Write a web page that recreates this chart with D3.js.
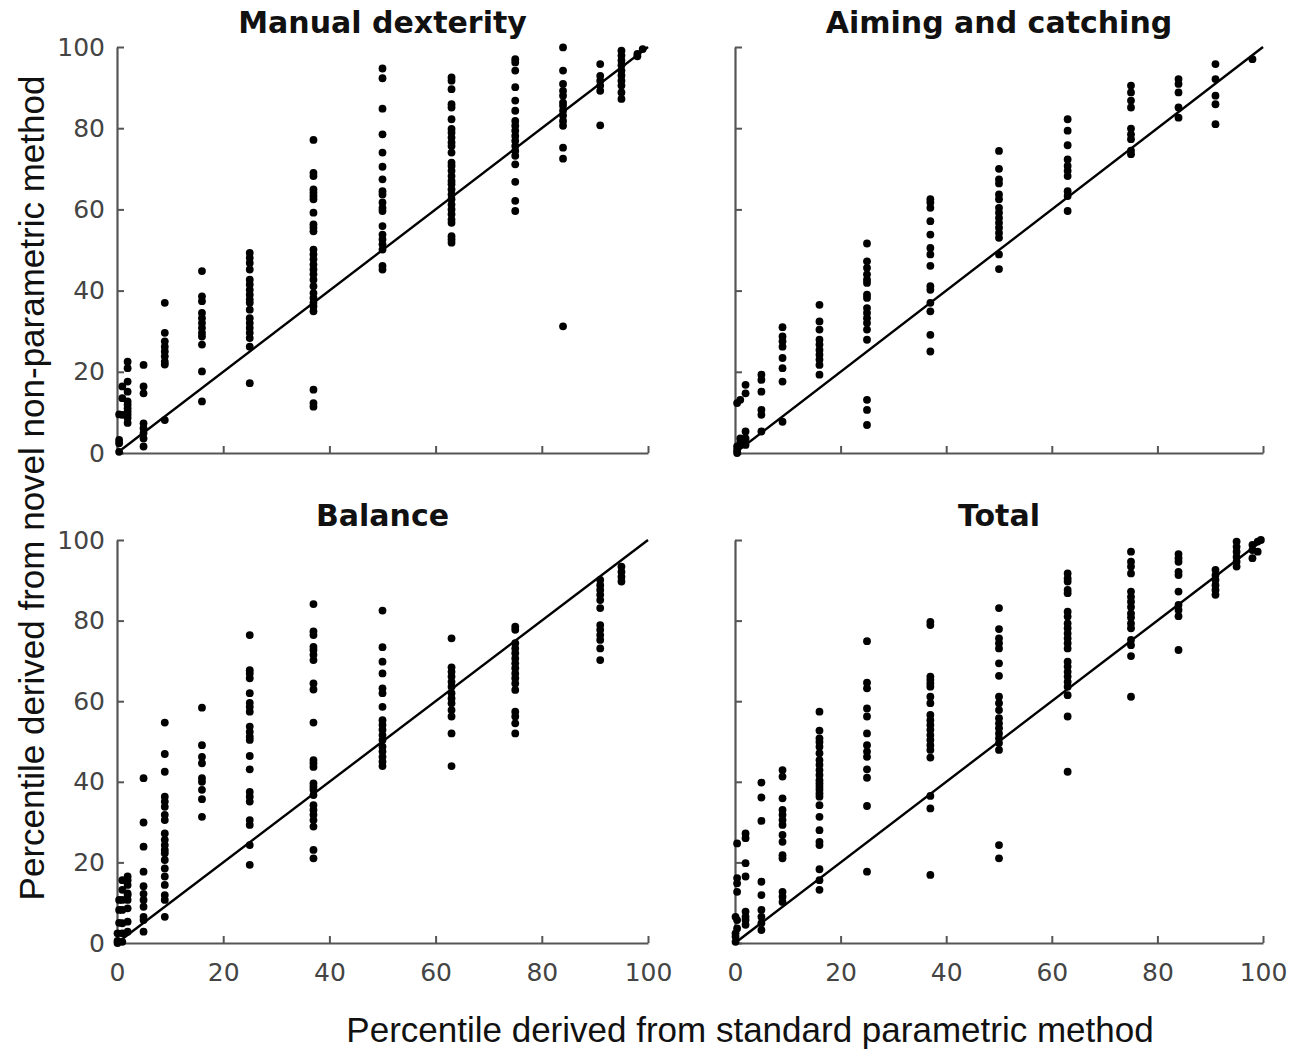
<html>
<head>
<script src="https://cdn.jsdelivr.net/npm/d3@7"></script>
<style>
body { margin: 0; background: #fff; }
.tick text { font-family: 'DejaVu Sans', sans-serif; }
</style>
</head>
<body>
<div id="chart"></div>
<script>
// each panel: [standard-method percentile, [novel-method percentiles]]
var manualDexterity = [
  [0.4, [0.3, 2.4, 3.2, 9.5]],
  [1, [16.4, 13.5, 9.4]],
  [2, [22.5, 20.9, 17.6, 15.1, 12.7, 11.9, 11.0, 10.2, 9.4, 8.6, 7.4]],
  [5, [21.7, 16.4, 14.7, 7.3, 6.1, 4.9, 3.6, 1.6]],
  [9, [37, 29.6, 27.5, 26.2, 25, 23.8, 22.5, 21.8, 8.1]],
  [16, [44.8, 38.6, 37.4, 34.5, 33.2, 32, 30.8, 29.6, 28.7, 26.7, 20.1, 12.7]],
  [25, [49.3, 48.1, 46.8, 45.2, 42.7, 41.5, 40.2, 39, 37.8, 37, 35.3, 33.2, 32, 30.8, 29.6, 28.3, 26.2, 17.2]],
  [37, [77.1, 69, 68.2, 64.9, 64.1, 63.3, 62.5, 59.2, 56.3, 55.5, 54.6, 50.1, 48.9, 47.7, 46.4, 45.2, 44, 42.7, 41.1, 39.4, 38.2, 37, 36.1, 34.9, 15.6, 12.3, 11.4]],
  [50, [94.7, 92.3, 84.8, 78.5, 74, 70.5, 67.4, 64.5, 63.7, 61.7, 60.4, 59.6, 55.9, 53.8, 52.6, 51.4, 50.1, 46.1, 45.2]],
  [63, [92.5, 91.7, 89.6, 85.9, 85.1, 82.2, 79.8, 78.9, 77.7, 76.5, 75.6, 74, 71.5, 70.7, 69.5, 68.2, 67, 66.2, 64.9, 63.7, 62.5, 61.2, 60, 58.8, 57.5, 56.7, 53.4, 52.6, 51.8]],
  [75, [97, 96.2, 94.2, 90.1, 86.8, 84.3, 81.8, 80.6, 79.4, 78.1, 76.9, 75.6, 74.4, 73.2, 71.1, 66.8, 62.1, 59.6]],
  [84, [99.9, 94.2, 90.9, 89.2, 88, 86.3, 85.5, 84.3, 83.1, 81.8, 80.6, 75.2, 72.5, 31.2]],
  [91, [95.8, 92.9, 91.7, 90.5, 89.2, 80.7]],
  [95, [99.1, 97.9, 96.7, 95.5, 94.2, 93, 91.7, 90.5, 88.8, 87.2]],
  [98, [98.3, 97.7]],
  [99, [99.5]]
];

var aimingCatching = [
  [0.4, [0, 0.7, 1.6, 12.3]],
  [1, [13.1, 3.6, 2.4]],
  [2, [16.8, 14.7, 5.3, 3.6, 2]],
  [5, [19.3, 18, 15.1, 10.6, 9.4, 5.3]],
  [9, [31, 28.7, 27.5, 26.2, 23.4, 20.9, 17.6, 7.7]],
  [16, [36.5, 32.4, 30.4, 27.9, 26.7, 25.4, 24.2, 23, 21.7, 19.3]],
  [25, [51.6, 47.2, 45.6, 44, 42.7, 41.9, 39, 38.2, 35.7, 34.5, 33.2, 32, 30.4, 27.9, 13.1, 10.6, 6.9]],
  [37, [62.5, 61.7, 60.4, 57.1, 53.8, 50.5, 48.9, 46.1, 41.1, 40.2, 37, 34.9, 29.1, 25]],
  [50, [74.4, 70, 67.4, 66.4, 63.7, 62.5, 60.4, 59.2, 57.9, 56.7, 55.5, 54.2, 53, 48.9, 45.3]],
  [63, [82.2, 79.4, 75.8, 72.3, 70.7, 69.5, 68.2, 64.5, 63.3, 59.6]],
  [75, [90.5, 88.8, 86.8, 85.1, 79.9, 78.5, 77.3, 74.5, 73.6]],
  [84, [92.1, 90.9, 88.8, 85.1, 82.6]],
  [91, [95.8, 92.1, 88, 85.9, 81]],
  [98, [97]]
];

var balance = [
  [0.1, [0, 0.5, 2.4]],
  [0.4, [5, 8.2, 10.7]],
  [1, [15.6, 13.2, 10.7, 8.2, 4.9, 2.4, 0.3]],
  [2, [16.5, 15.6, 14.4, 12.3, 11.9, 10.7, 8.6, 5.3, 2.8]],
  [5, [40.9, 29.9, 23.9, 17.7, 14.1, 12.2, 10.7, 9, 6.5, 5.7, 2.8]],
  [9, [54.7, 46.9, 42.5, 36.3, 35.1, 33.8, 31.8, 30.5, 27.2, 25.6, 24.3, 23.1, 22.3, 20.6, 18.5, 16.5, 14.4, 11.9, 10.7, 6.5]],
  [16, [58.4, 49.1, 46.2, 44.6, 40.9, 40, 38, 35.7, 31.3]],
  [25, [76.4, 67.7, 66.9, 65.7, 62, 59.6, 58.6, 57.4, 53.7, 52.4, 51.2, 50.4, 46.4, 43.1, 37.5, 36.3, 35.1, 30.5, 29.3, 24.3, 19.4]],
  [37, [84.1, 77.3, 76.4, 73.5, 72.7, 71.5, 70.2, 64.4, 62.9, 54.7, 45.4, 44.6, 43.7, 39.6, 38.8, 38, 36.7, 34.2, 33, 31.8, 30.5, 28.9, 23.1, 21]],
  [50, [82.5, 73.4, 69.8, 66.9, 63.2, 62, 58.6, 55.3, 54.1, 52.9, 51.6, 50.4, 48.7, 47.5, 46.2, 45, 43.9]],
  [63, [75.6, 68.4, 67.3, 66.1, 64.8, 63.6, 62, 60.7, 59.5, 57.8, 56.2, 52, 43.9]],
  [75, [78.5, 77.7, 74.4, 73.1, 71.9, 70.6, 69.4, 68.2, 66.9, 65.7, 64.4, 62.8, 57.4, 56.2, 54.5, 52]],
  [91, [90.1, 88.8, 87.6, 86.4, 85.1, 83.1, 78.9, 77.7, 76.4, 75.2, 73.1, 70.2]],
  [95, [93.4, 92.1, 90.9, 89.7]]
];

var total = [
  [0.1, [0.3, 1.6, 2.4, 6.5]],
  [0.4, [24.7, 16.1, 14.8, 12.7, 5.7, 3.6]],
  [2, [27.2, 26, 19.8, 16.5, 7.8, 6.5, 5.7, 4.5]],
  [5, [39.8, 36.1, 30.3, 15.2, 11.9, 8.2, 6.5, 4.9, 3.2]],
  [9, [42.9, 41.3, 35.9, 33, 31.8, 30.5, 29.3, 26.8, 25.1, 21.8, 21, 12.7, 11.5, 10.2]],
  [16, [57.4, 52.7, 50.8, 49.9, 48.7, 47.1, 45.4, 44.2, 42.9, 41.7, 40.4, 39.6, 38.8, 38, 37.1, 36.3, 34.2, 31.3, 28, 25.1, 24.3, 18.3, 15.6, 13.2]],
  [25, [74.9, 64.6, 63.2, 58.2, 56.2, 52, 49.1, 47.5, 46.2, 43.1, 41, 34, 17.7]],
  [37, [79.7, 78.9, 66.1, 65.3, 64.4, 63.6, 61.1, 59.5, 56.6, 55.3, 54.1, 52.9, 51.6, 50.4, 49.1, 47.9, 46, 36.5, 33.4, 16.9]],
  [50, [83.1, 77.9, 75.6, 74.4, 73.1, 69.4, 66.3, 61.1, 59.5, 57.8, 55.8, 54.5, 53.3, 52, 50.8, 49.6, 47.9, 24.3, 21]],
  [63, [91.7, 90.5, 89.7, 87.6, 86.8, 82.2, 81, 79.3, 78.1, 76.8, 75.6, 74.4, 73.1, 69.8, 68.6, 67.3, 66.1, 64.8, 63.6, 61.5, 56.2, 42.5]],
  [75, [97.1, 94.6, 93.4, 91.7, 87.2, 85.9, 84.7, 83.4, 81.8, 80.8, 79.3, 78.1, 75.2, 73.9, 71.2, 61.1]],
  [84, [96.5, 95.5, 94.6, 92.1, 91.3, 87.2, 83.9, 82.6, 81.1, 72.7]],
  [91, [92.6, 91.3, 90.1, 88.8, 87.6, 86.4]],
  [95, [99.6, 98.3, 97.1, 95.8, 94.6, 93.4]],
  [98, [98.8, 97.5, 95.5]],
  [99, [99.6, 97.1]],
  [99.6, [100]]
];

var titles = ["Manual dexterity", "Aiming and catching", "Balance", "Total"];
var panelData = [manualDexterity, aimingCatching, balance, total];
var ticks = [0, 20, 40, 60, 80, 100];

var svg = d3.select("#chart").append("svg")
    .attr("width", 1305)
    .attr("height", 1049);

// plot boxes [left, top, width, height]
var boxes = [
  [117, 47, 531, 406],
  [735, 47, 528, 406],
  [117, 540, 531, 403],
  [735, 540, 528, 403]
];

boxes.forEach(function(b, i) {
  var g = svg.append("g").attr("transform", "translate(" + b[0] + "," + b[1] + ")");
  var x = d3.scaleLinear().domain([0, 100]).range([0, b[2]]);
  var y = d3.scaleLinear().domain([0, 100]).range([b[3], 0]);

  var xAxis = d3.axisBottom(x).tickValues(ticks).tickSizeInner(-7).tickSizeOuter(0).tickPadding(20);
  var yAxis = d3.axisLeft(y).tickValues(ticks).tickSizeInner(-7).tickSizeOuter(0).tickPadding(12);
  if (i < 2) xAxis.tickFormat("");
  if (i % 2 == 1) yAxis.tickFormat("");

  var gx = g.append("g").attr("transform", "translate(0," + b[3] + ")").call(xAxis);
  var gy = g.append("g").call(yAxis);
  [gx, gy].forEach(function(a) {
    a.select(".domain").attr("stroke", "#555").attr("stroke-width", 2.2);
    a.selectAll(".tick line").attr("stroke", "#555").attr("stroke-width", 2);
    a.selectAll(".tick text").attr("fill", "#444").style("font-size", "25px");
  });

  // identity line
  g.append("line")
      .attr("x1", x(0)).attr("y1", y(0))
      .attr("x2", x(100)).attr("y2", y(100))
      .attr("stroke", "#000")
      .attr("stroke-width", 2.4);

  var pts = [];
  panelData[i].forEach(function(col) {
    col[1].forEach(function(v) { pts.push({ sx: col[0], nv: v }); });
  });

  g.selectAll("circle")
      .data(pts)
    .enter().append("circle")
      .attr("cx", function(d) { return x(d.sx); })
      .attr("cy", function(d) { return y(d.nv); })
      .attr("r", 3.9)
      .attr("fill", "#000");

  svg.append("text")
      .attr("x", b[0] + b[2] / 2).attr("y", b[1] - 14)
      .attr("text-anchor", "middle")
      .style("font-family", "'DejaVu Sans', sans-serif")
      .style("font-weight", "bold")
      .style("font-size", "30px")
      .attr("fill", "#111")
      .text(titles[i]);
});

// x axis label
svg.append("text")
    .attr("x", 750).attr("y", 1042)
    .attr("text-anchor", "middle")
    .style("font-family", "'Liberation Sans', Arial, sans-serif")
    .style("font-size", "35px")
    .attr("fill", "#111")
    .text("Percentile derived from standard parametric method");

// y axis label
svg.append("text")
    .attr("text-anchor", "middle")
    .attr("transform", "translate(44,488)rotate(-90)")
    .style("font-family", "'Liberation Sans', Arial, sans-serif")
    .style("font-size", "35px")
    .attr("fill", "#111")
    .text("Percentile derived from novel non-parametric method");
</script>
</body>
</html>
